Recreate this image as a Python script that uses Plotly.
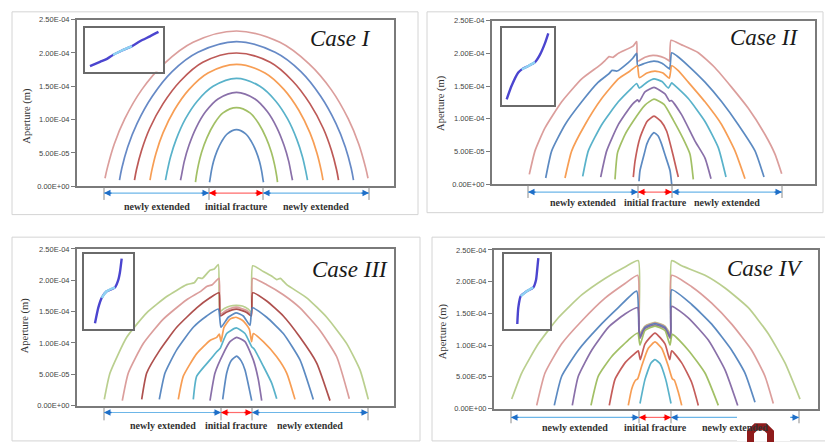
import plotly.graph_objects as go

W, H = 825, 442

# ---- y axis ticks (aperture, m) ----
tick_vals = [0, 5e-5, 1e-4, 1.5e-4, 2e-4, 2.5e-4]
tick_text = ["0.00E+00", "5.00E-05", "1.00E-04", "1.50E-04", "2.00E-04", "2.50E-04"]
APERTURE_UNIT = 1e-5  # apertures below are listed in units of 1e-5 m

# palette
BLUE, RED, GREEN, PURPLE = "#4F81BD", "#C0504D", "#9BBB59", "#8064A2"
TEAL, ORANGE, PINK, LGREEN, DRED = "#4BACC6", "#F79646", "#D99694", "#B5CC86", "#A8423F"

# ---- Case I : position along fracture (m) / aperture (1e-5 m) ----
case1_x = [
    [-131.5, -128.9, -122.3, -111.8, -94.7, -72.3, -43.4, 0, 43.4, 72.3, 94.7, 111.8, 122.3, 128.9, 131.5],
    [-117, -114.7, -108.8, -99.5, -84.2, -64.4, -38.6, 0, 38.6, 64.4, 84.2, 99.5, 108.8, 114.7, 117],
    [-102, -100, -94.9, -86.7, -73.4, -56.1, -33.7, 0, 33.7, 56.1, 73.4, 86.7, 94.9, 100, 102],
    [-86.5, -84.8, -80.4, -73.5, -62.3, -47.6, -28.5, 0, 28.5, 47.6, 62.3, 73.5, 80.4, 84.8, 86.5],
    [-71, -69.6, -66, -60.4, -51.1, -39.1, -23.4, 0, 23.4, 39.1, 51.1, 60.4, 66, 69.6, 71],
    [-56, -54.9, -52.1, -47.6, -40.3, -30.8, -18.5, 0, 18.5, 30.8, 40.3, 47.6, 52.1, 54.9, 56],
    [-41, -40.2, -38.1, -34.9, -29.5, -22.6, -13.5, 0, 13.5, 22.6, 29.5, 34.9, 38.1, 40.2, 41],
    [-27, -26.5, -25.1, -23, -19.4, -14.9, -8.9, 0, 8.9, 14.9, 19.4, 23, 25.1, 26.5, 27],
]
case1_y = [
    [1.2, 2.9, 6.3, 10.1, 14.5, 18.4, 21.6, 23.3, 21.6, 18.4, 14.5, 10.1, 6.3, 2.9, 1.2],
    [0.9, 2.7, 5.9, 9.4, 13.5, 17.2, 20.1, 21.7, 20.1, 17.2, 13.5, 9.4, 5.9, 2.7, 0.9],
    [0.9, 2.5, 5.4, 8.7, 12.4, 15.8, 18.6, 20.0, 18.6, 15.8, 12.4, 8.7, 5.4, 2.5, 0.9],
    [0.9, 2.3, 5.0, 8.0, 11.4, 14.5, 17.0, 18.3, 17.0, 14.5, 11.4, 8.0, 5.0, 2.3, 0.9],
    [0.9, 2.0, 4.4, 7.0, 10.1, 12.8, 15.0, 16.2, 15.0, 12.8, 10.1, 7.0, 4.4, 2.0, 0.9],
    [0.9, 1.7, 3.8, 6.1, 8.8, 11.2, 13.1, 14.1, 13.1, 11.2, 8.8, 6.1, 3.8, 1.7, 0.9],
    [0.6, 1.5, 3.2, 5.1, 7.3, 9.3, 11.0, 11.8, 11.0, 9.3, 7.3, 5.1, 3.2, 1.5, 0.6],
    [0.6, 1.0, 2.3, 3.7, 5.3, 6.7, 7.9, 8.5, 7.9, 6.7, 5.3, 3.7, 2.3, 1.0, 0.6],
]
case1_colors = [PINK, "#5A80C2", "#B84C49", ORANGE, TEAL, PURPLE, GREEN, BLUE]
case1_bounds = [-132.5, -27.5, 26.5, 132.5]

# ---- Case II ----
case2_x = [
    [-125.7, -120, -110, -93.3, -73.3, -55, -50, -46, -42, -36.7, -22, -18.3, -17.5, -10, -2, 6, 13, 14.5, 16,
     26.7, 43.3, 60, 76.7, 93.3, 110, 120, 126.7],
    [-109.3, -103.3, -90, -73.3, -56.7, -46, -43, -38, -26.7, -22, -18.3, -17.3, -10, -1, 7, 13, 14.7, 16.7, 22,
     33.3, 50, 66.7, 83.3, 100, 109],
    [-90, -83.3, -70, -53.3, -36.7, -25, -17.7, -15.7, -8, 0, 8, 14.3, 16.7, 23, 33.3, 50, 66.7, 80, 90],
    [-72.3, -66.7, -53.3, -36.7, -23.3, -18.3, -15.7, -8, -1, 7, 13.3, 16.7, 18.3, 33.3, 50, 63.3, 71],
    [-54.3, -48.3, -36.7, -23.3, -17.3, -16, -10, -1, 10, 14.5, 16.5, 26.7, 40, 50, 56],
    [-40, -37.5, -30, -22, -10, -1, 9, 18.3, 28, 35, 38.3],
    [-21.7, -20, -15, -8, -1, 6, 11.7, 18, 21.7, 23.3],
    [-16, -15, -10, -8.3, -4, -1, 3, 6.7, 10, 15, 16.7],
]
case2_y = [
    [1.5, 5.1, 8.6, 12.6, 16.1, 18.2, 18.9, 19.5, 19.4, 20.0, 21.1, 21.8, 18.8, 19.4, 19.7, 19.5, 19.0, 18.8, 22.0,
     21.3, 20.1, 17.8, 14.8, 11.6, 7.6, 4.6, 1.6],
    [0.95, 5.1, 9.1, 12.6, 15.6, 16.9, 17.4, 17.3, 18.6, 19.3, 20.0, 18.1, 18.5, 18.8, 18.5, 17.8, 17.6, 20.1, 19.6,
     18.1, 15.6, 12.6, 9.1, 5.1, 1.1],
    [0.95, 5.1, 9.1, 13.1, 16.1, 17.3, 18.1, 16.3, 17.0, 17.3, 17.0, 16.2, 18.1, 17.4, 15.6, 12.6, 9.1, 5.1, 0.85],
    [1.2, 5.1, 9.1, 12.6, 14.7, 15.4, 14.7, 15.6, 16.1, 15.7, 14.7, 15.5, 15.3, 13.1, 9.6, 5.6, 1.1],
    [1.1, 5.1, 9.1, 12.1, 12.9, 12.6, 14.1, 14.8, 13.8, 12.7, 12.8, 10.6, 6.6, 4.0, 0.85],
    [0.75, 4.8, 7.6, 9.6, 12.1, 13.0, 12.2, 9.8, 7.0, 4.6, 0.75],
    [1.1, 3.5, 7.1, 9.6, 10.4, 9.6, 8.1, 4.5, 2.1, 1.1],
    [0.45, 2.1, 5.1, 6.1, 7.4, 7.9, 7.4, 6.1, 4.5, 2.1, 0.0],
]
case2_colors = [PINK, BLUE, ORANGE, TEAL, PURPLE, GREEN, RED, BLUE]
case2_bounds = [-127, -17, 17, 127]

# ---- Case III ----
case3_x = [
    [-132, -126.3, -109.6, -89.6, -69.6, -49.6, -42, -38, -34, -26.3, -22, -18, -16.3, -12, -6, 0, 6, 12, 15, 16.4,
     27, 36, 40.4, 44, 50.4, 70.4, 90.4, 110.4, 123.7, 132],
    [-114, -108, -93, -73, -49.6, -35, -29.6, -24, -17.3, -16, -10, 0, 10, 15, 16.4, 30.4, 47, 63.7, 83.7, 100.4, 113],
    [-94.6, -89.6, -76.3, -59.6, -39.6, -26.3, -17.3, -16, -10, 0, 10, 15, 16.4, 30.4, 47, 63.7, 80.4, 93.7],
    [-77, -71.3, -59.6, -43, -29.6, -18, -15.3, -8, -0.3, 7, 13.7, 16, 30.4, 47, 63.7, 77],
    [-58, -53, -39.6, -26.3, -19.6, -17, -15.3, -12.3, -6.3, -0.3, 7, 13, 15.3, 17, 27, 40.4, 50.4, 58.7],
    [-43, -39.6, -26.3, -19.6, -16.3, -9.6, 0, 8.7, 15.4, 18, 27, 35.4, 40.4],
    [-26.3, -21.3, -13, -6.3, 0.4, 8.7, 17, 22, 25.4],
    [-13.6, -9.6, -5, 0.4, 5, 8.7, 15.4],
]
case3_y = [
    [1.0, 5.2, 10.9, 14.8, 17.4, 19.3, 19.6, 20.4, 20.3, 21.6, 21.8, 22.5, 15.0, 15.5, 15.9, 16.0, 15.9, 15.4, 14.9,
     22.3, 21.4, 20.6, 20.1, 20.3, 19.3, 17.2, 14.1, 9.9, 5.7, 1.0],
    [0.8, 5.2, 9.9, 13.8, 16.9, 18.3, 19.0, 19.3, 20.3, 14.6, 15.2, 15.7, 15.2, 14.6, 20.3, 19.3, 17.7, 15.6, 12.0,
     7.8, 1.1],
    [1.0, 5.2, 8.9, 12.5, 15.6, 17.2, 18.0, 14.3, 14.9, 15.4, 14.9, 14.3, 18.0, 16.7, 14.3, 10.9, 6.8, 0.8],
    [1.0, 5.2, 8.9, 12.5, 14.3, 15.4, 12.5, 14.1, 14.8, 14.3, 12.8, 15.6, 14.1, 11.5, 7.3, 1.0],
    [1.0, 4.7, 8.3, 10.4, 10.9, 11.4, 10.2, 12.5, 13.8, 14.1, 13.5, 12.2, 10.2, 11.5, 10.2, 7.8, 5.2, 1.0],
    [1.0, 4.7, 7.3, 8.6, 9.1, 11.5, 12.4, 11.5, 9.4, 9.0, 6.3, 3.6, 1.1],
    [0.8, 5.2, 8.3, 10.2, 10.9, 10.2, 7.3, 4.2, 0.8],
    [1.0, 5.2, 7.2, 7.9, 7.1, 5.7, 0.8],
]
case3_colors = [LGREEN, PINK, DRED, BLUE, ORANGE, TEAL, PURPLE, BLUE]
case3_bounds = [-132.3, -15.3, 15.7, 131.7]

# ---- Case IV ----
case4_x = [
    [-143.3, -133.3, -116.7, -96.7, -73.3, -50, -30, -16.7, -15.5, -10, 0, 10, 15.5, 16.7, 26.7, 50, 70, 93.3, 113.3,
     130, 145],
    [-118.3, -110, -93.3, -73.3, -50, -30, -17.3, -15.5, -10, 0, 10, 15.5, 16.7, 36.7, 56.7, 76.7, 96.7, 110, 118.3],
    [-100.7, -93.3, -76.7, -56.7, -36.7, -18.3, -15.5, -10, 0, 10, 15.5, 16.7, 36.7, 56.7, 76.7, 90, 100],
    [-82.7, -76.7, -63.3, -46.7, -30, -17.3, -15.5, -10, 0, 10, 15.5, 16.7, 33.3, 53.3, 70, 82.7],
    [-64, -56.7, -43.3, -26.7, -17.3, -15, -10, 0, 10, 15, 17.3, 33.3, 50, 63.3],
    [-45.7, -40, -30, -20, -16.7, -14.7, -10, 0, 10, 14.7, 16.7, 26.7, 36.7, 43.3],
    [-26.7, -23.3, -19.3, -17.3, -13.3, -6.7, 0, 6.7, 13.3, 17.3, 19.3, 23.3, 26.7],
    [-15, -10, -4, 0, 5, 10.7, 16],
]
case4_y = [
    [1.5, 5.6, 10.2, 14.3, 17.9, 20.5, 22.3, 23.3, 11.8, 13.0, 13.6, 13.0, 11.8, 23.3, 22.5, 21.0, 19.0, 15.9, 11.8,
     7.2, 1.5],
    [0.5, 5.6, 10.2, 13.8, 17.4, 19.7, 21.0, 11.6, 12.9, 13.5, 12.9, 11.6, 21.0, 19.2, 16.6, 13.3, 9.2, 5.1, 0.8],
    [0.5, 5.1, 9.2, 12.8, 15.9, 18.5, 11.3, 12.8, 13.4, 12.8, 11.3, 18.7, 16.4, 13.3, 9.2, 5.6, 1.0],
    [0.5, 5.1, 9.2, 12.8, 14.9, 15.9, 11.0, 12.6, 13.2, 12.6, 11.0, 16.1, 14.3, 10.8, 6.1, 0.5],
    [0.5, 5.1, 8.2, 10.8, 11.9, 10.0, 12.3, 13.0, 12.3, 10.0, 11.7, 9.2, 5.6, 0.5],
    [0.5, 4.6, 7.2, 8.7, 9.1, 7.7, 10.2, 11.9, 10.2, 7.7, 9.1, 7.2, 4.1, 0.5],
    [0.5, 3.1, 4.5, 4.7, 6.7, 9.5, 10.5, 9.5, 6.7, 4.7, 4.5, 2.6, 0.5],
    [0.8, 4.6, 7.2, 7.7, 7.1, 4.6, 0.8],
]
case4_colors = [LGREEN, PINK, BLUE, PURPLE, GREEN, RED, ORANGE, TEAL]
case4_bounds = [-144, -16, 16, 144]

# ---- inset profiles (normalised box coordinates) ----
inset1_x = [0.064, 0.192, 0.282, 0.359, 0.474, 0.603, 0.705, 0.833, 0.942]
inset1_y = [0.122, 0.222, 0.289, 0.378, 0.478, 0.578, 0.689, 0.800, 0.900]
inset2_x = [0.090, 0.187, 0.313, 0.379, 0.506, 0.635, 0.731, 0.827, 0.890]
inset2_y = [0.073, 0.253, 0.423, 0.465, 0.509, 0.560, 0.658, 0.808, 0.936]
inset3_x = [0.224, 0.292, 0.361, 0.463, 0.633, 0.700, 0.735, 0.769]
inset3_y = [0.078, 0.286, 0.416, 0.503, 0.555, 0.653, 0.762, 0.935]
inset4_x = [0.289, 0.311, 0.363, 0.493, 0.637, 0.696, 0.724, 0.746]
inset4_y = [0.069, 0.286, 0.438, 0.503, 0.555, 0.653, 0.805, 0.944]

segment_labels = ["newly extended", "initial fracture", "newly extended"]

# layout of the four panels (pixel boxes)
panels = [
    dict(title="Case I", xs=case1_x, ys=case1_y, colors=case1_colors, bounds=case1_bounds, smooth=1.0,
         box=(77, 16, 394, 186), xr=(-159.5, 157.5), arrow=193, vline=(187, 200), label=207,
         tpos=(340, 35), ytpos=(27, 114), frame=(12, 8, 418, 215),
         inset=(85, 24, 163, 69), ix=inset1_x, iy=inset1_y, mid=(3, 5)),
    dict(title="Case II", xs=case2_x, ys=case2_y, colors=case2_colors, bounds=case2_bounds, smooth=0.5,
         box=(492, 17, 815, 184), xr=(-163, 160), arrow=192, vline=(185, 198), label=203,
         tpos=(764, 34), ytpos=(441, 101), frame=(427, 8, 823, 213),
         inset=(502, 25, 554, 103), ix=inset2_x, iy=inset2_y, mid=(3, 5)),
    dict(title="Case III", xs=case3_x, ys=case3_y, colors=case3_colors, bounds=case3_bounds, smooth=0.5,
         box=(77, 250, 394, 410), xr=(-159.3, 157.7), arrow=417, vline=(412, 425), label=430,
         tpos=(350, 271), ytpos=(25, 328), frame=(12, 238, 420, 446),
         inset=(84, 255, 133, 332), ix=inset3_x, iy=inset3_y, mid=(2, 4)),
    dict(title="Case IV", xs=case4_x, ys=case4_y, colors=case4_colors, bounds=case4_bounds, smooth=0.5,
         box=(494, 251, 818, 413), xr=(-161, 163), arrow=422, vline=(415, 428), label=432,
         tpos=(765, 270), ytpos=(443, 334), frame=(432, 238, 830, 446),
         inset=(504, 255, 550, 332), ix=inset4_x, iy=inset4_y, mid=(2, 4)),
]


def px_x(v):
    return v / W


def px_y(v):
    return 1 - v / H


fig = go.Figure()
shapes, annotations = [], []
AX_COL = "#7a7a7a"

for i, p in enumerate(panels):
    s = "" if i == 0 else str(i + 1)
    si = str(i + 5)
    x0, y0, x1, y1 = p["box"]

    # aperture profiles
    for xs, ys, col in zip(p["xs"], p["ys"], p["colors"]):
        fig.add_trace(go.Scatter(
            x=xs, y=[v * APERTURE_UNIT for v in ys], mode="lines", opacity=0.92,
            line=dict(color=col, width=1.7, shape="spline", smoothing=p["smooth"]),
            xaxis="x" + s, yaxis="y" + s, showlegend=False, hoverinfo="skip"))

    fig.layout["xaxis" + s] = dict(
        domain=[px_x(x0), px_x(x1)], range=list(p["xr"]), anchor="y" + s,
        showline=True, mirror=True, linewidth=2, linecolor=AX_COL,
        showgrid=False, zeroline=False, showticklabels=False, ticks="")
    fig.layout["yaxis" + s] = dict(
        domain=[px_y(y1), px_y(y0)], range=[0, 2.5e-4], anchor="x" + s,
        tickvals=tick_vals, ticktext=tick_text, ticks="outside", ticklen=4,
        tickcolor=AX_COL, tickwidth=1,
        showline=True, mirror=True, linewidth=2, linecolor=AX_COL,
        showgrid=False, zeroline=False,
        tickfont=dict(family="Liberation Sans", size=7.5, color="#444444"))

    # inset profile box
    bx0, by0, bx1, by1 = p["inset"]
    fig.layout["xaxis" + si] = dict(
        domain=[px_x(bx0), px_x(bx1)], range=[0, 1], anchor="y" + si,
        showline=True, mirror=True, linewidth=2, linecolor="#6a6a6a",
        showgrid=False, zeroline=False, showticklabels=False, ticks="")
    fig.layout["yaxis" + si] = dict(
        domain=[px_y(by1), px_y(by0)], range=[0, 1], anchor="x" + si,
        showline=True, mirror=True, linewidth=2, linecolor="#6a6a6a",
        showgrid=False, zeroline=False, showticklabels=False, ticks="")
    fig.add_trace(go.Scatter(
        x=p["ix"], y=p["iy"], mode="lines",
        line=dict(color="#4B45CF", width=2.4, shape="spline", smoothing=0.6),
        xaxis="x" + si, yaxis="y" + si, showlegend=False, hoverinfo="skip"))
    a, b = p["mid"]
    fig.add_trace(go.Scatter(
        x=p["ix"][a:b + 1], y=p["iy"][a:b + 1], mode="lines",
        line=dict(color="#8FD3F2", width=2.4, shape="spline", smoothing=0.6),
        xaxis="x" + si, yaxis="y" + si, showlegend=False, hoverinfo="skip"))

    # outer panel frame
    fx0, fy0, fx1, fy1 = p["frame"]
    shapes.append(dict(type="rect", xref="paper", yref="paper",
                       x0=px_x(fx0), x1=px_x(fx1), y0=px_y(fy1), y1=px_y(fy0),
                       line=dict(color="#d4d4d4", width=1), layer="below"))

    # dimension lines under each panel
    bnd = p["bounds"]
    ya = px_y(p["arrow"])
    for bx in bnd:
        shapes.append(dict(type="line", xref="x" + s, yref="paper", x0=bx, x1=bx,
                           y0=px_y(p["vline"][0]), y1=px_y(p["vline"][1]),
                           line=dict(color="#8c8c8c", width=1)))
    seg_cols = [("#6DB6E8", "#1E6FC8"), ("#FF6B6B", "#FF0000"), ("#6DB6E8", "#1E6FC8")]
    for k in range(3):
        xa, xb = bnd[k], bnd[k + 1]
        shaft, head = seg_cols[k]
        shapes.append(dict(type="line", xref="x" + s, yref="paper", x0=xa, x1=xb, y0=ya, y1=ya,
                           line=dict(color=shaft, width=1.2)))
        for xe, off in ((xa, 9), (xb, -9)):
            annotations.append(dict(x=xe, y=ya, xref="x" + s, yref="paper", text="",
                                    showarrow=True, ax=off, ay=0, arrowhead=2, arrowsize=1,
                                    arrowwidth=1.3, arrowcolor=head, standoff=0))
        annotations.append(dict(x=(xa + xb) / 2, y=px_y(p["label"]), xref="x" + s, yref="paper",
                                text="<b>" + segment_labels[k] + "</b>", showarrow=False,
                                xanchor="center", yanchor="middle",
                                font=dict(family="Liberation Serif", size=10, color="#333333")))

    # case title and axis title
    annotations.append(dict(x=px_x(p["tpos"][0]), y=px_y(p["tpos"][1]), xref="paper", yref="paper",
                            text="<i>" + p["title"] + "</i>", showarrow=False,
                            xanchor="center", yanchor="middle",
                            font=dict(family="Liberation Serif", size=23, color="#1a1a1a")))
    annotations.append(dict(x=px_x(p["ytpos"][0]), y=px_y(p["ytpos"][1]), xref="paper", yref="paper",
                            text="Aperture (m)", showarrow=False, textangle=-90,
                            xanchor="center", yanchor="middle",
                            font=dict(family="Liberation Serif", size=10.5, color="#333333")))

# overlay badge in the lower-right corner
shapes.append(dict(type="rect", xref="paper", yref="paper", x0=px_x(737), x1=px_x(790),
                   y0=px_y(446), y1=px_y(416), fillcolor="white", line=dict(width=0), layer="above"))
path = "M {} {} L {} {} L {} {} L {} {} L {} {} L {} {}".format(
    px_x(750.5), px_y(448), px_x(750.5), px_y(437), px_x(756), px_y(431.5),
    px_x(765), px_y(431.5), px_x(770.5), px_y(437), px_x(770.5), px_y(448))
shapes.append(dict(type="path", xref="paper", yref="paper", path=path,
                   line=dict(color="#8E1B1B", width=7), layer="above"))

fig.update_layout(width=W, height=H, margin=dict(l=0, r=0, t=0, b=0),
                  paper_bgcolor="white", plot_bgcolor="white",
                  shapes=shapes, annotations=annotations, showlegend=False)

fig.write_html("out.html")
